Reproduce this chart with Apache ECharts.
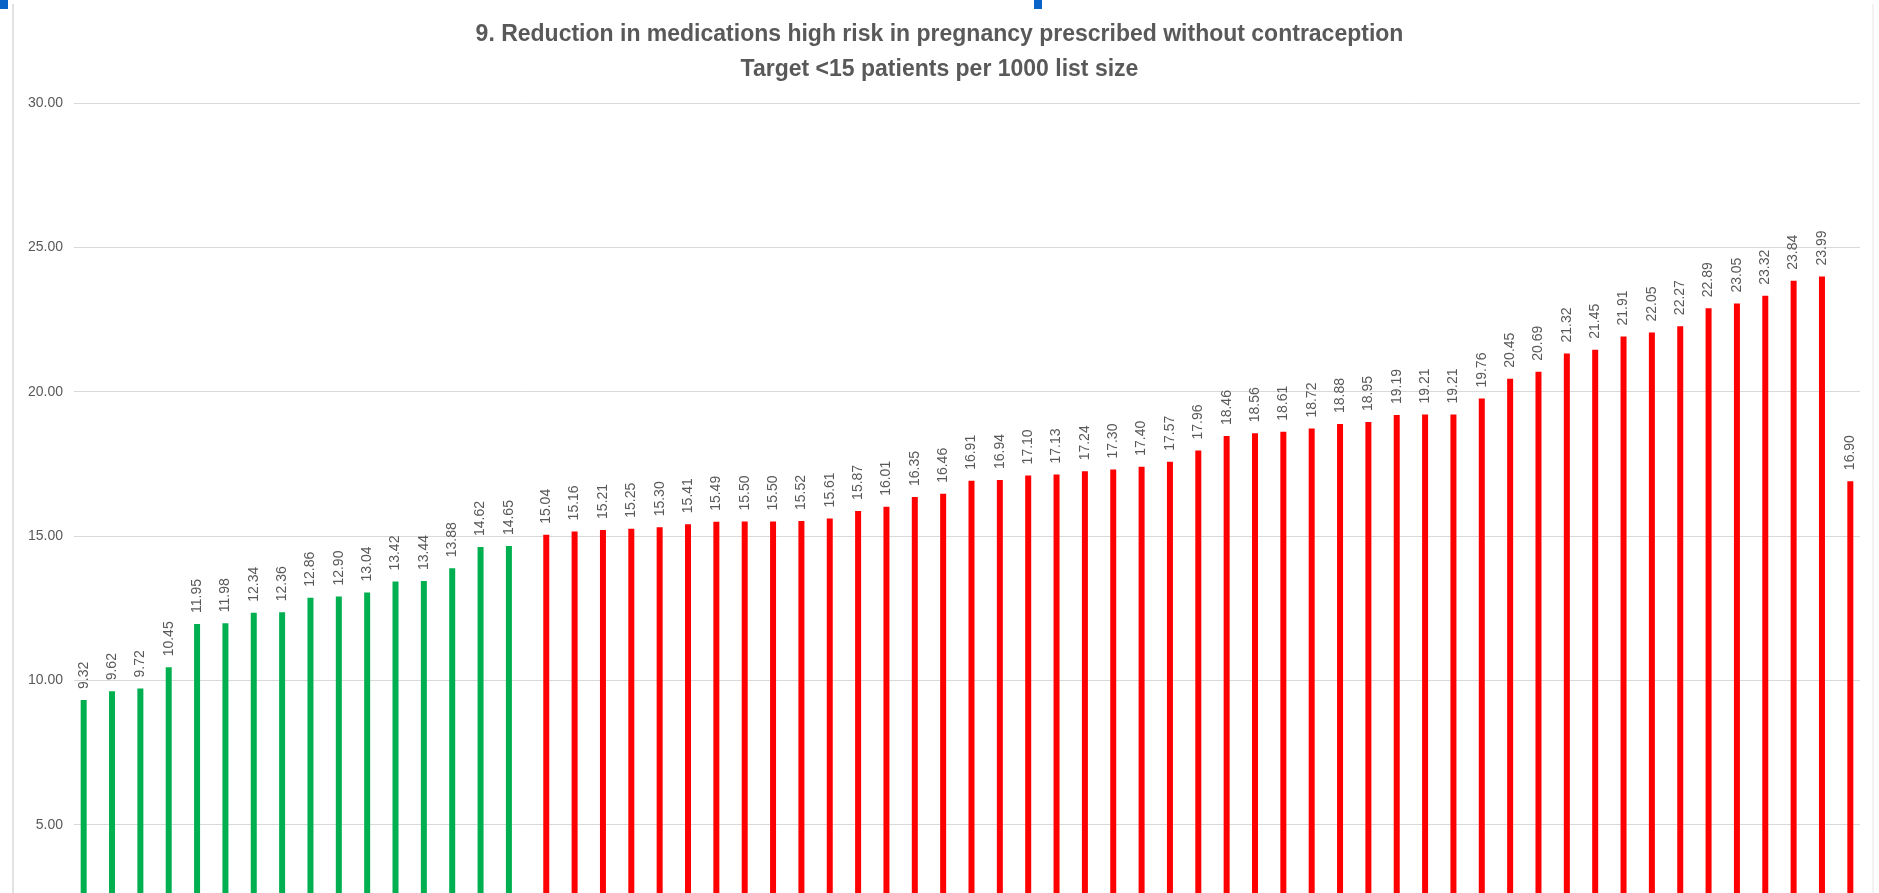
<!DOCTYPE html>
<html>
<head>
<meta charset="UTF-8">
<title>9. Reduction in medications high risk in pregnancy</title>
<script src="https://cdn.jsdelivr.net/npm/echarts@6/dist/echarts.min.js"></script>
<style>
  html, body { margin: 0; padding: 0; background: #fff; overflow: hidden; }
  /* the reference is cropped: the zero line sits below the window */
  #main { width: 1879px; height: 969px; }
</style>
</head>
<body>
<div id="main"></div>
<script>
// values per practice, sorted; last bar is the overall figure
var values = [
  9.32, 9.62, 9.72, 10.45, 11.95, 11.98, 12.34, 12.36, 12.86, 12.90,
  13.04, 13.42, 13.44, 13.88, 14.62, 14.65,
  15.04, 15.16, 15.21, 15.25, 15.30, 15.41, 15.49, 15.50, 15.50, 15.52,
  15.61, 15.87, 16.01, 16.35, 16.46, 16.91, 16.94, 17.10, 17.13, 17.24,
  17.30, 17.40, 17.57, 17.96, 18.46, 18.56, 18.61, 18.72, 18.88, 18.95,
  19.19, 19.21, 19.21, 19.76, 20.45, 20.69, 21.32, 21.45, 21.91, 22.05,
  22.27, 22.89, 23.05, 23.32, 23.84, 23.99, 16.90
];
var target = 15;
var yTicks = [0, 5, 10, 15, 20, 25, 30];
var categories = values.map(function (v, i) { return String(i + 1); });

// split into under / over target series (Excel style two series)
var underTarget = values.map(function (v) { return v < target ? v : null; });
var overTarget = values.map(function (v) { return v >= target ? v : null; });

var labelStyle = {
  show: true,
  position: 'top',
  rotate: 90,
  align: 'left',
  verticalAlign: 'middle',
  distance: 11,
  color: '#595959',
  fontFamily: 'Liberation Sans',
  fontSize: 14,
  formatter: function (p) { return p.value == null ? '' : p.value.toFixed(2); }
};

var myChart = echarts.init(document.getElementById('main'));
var option = {
  backgroundColor: '#ffffff',
  animation: false,
  title: [
    {
      text: '9. Reduction in medications high risk in pregnancy prescribed without contraception',
      left: 'center',
      top: 18,
      textStyle: { color: '#595959', fontFamily: 'Liberation Sans', fontWeight: 'bold', fontSize: 23 }
    },
    {
      text: 'Target <15 patients per 1000 list size',
      left: 'center',
      top: 53,
      textStyle: { color: '#595959', fontFamily: 'Liberation Sans', fontWeight: 'bold', fontSize: 23 }
    }
  ],
  grid: { left: 74, right: 19, top: 103, bottom: 0, containLabel: false, outerBoundsMode: 'none' },
  xAxis: {
    type: 'category',
    data: categories,
    axisLine: { show: false },
    axisTick: { show: false },
    axisLabel: { show: false }
  },
  yAxis: {
    type: 'value',
    min: yTicks[0],
    max: yTicks[yTicks.length - 1],
    interval: 5,
    axisLine: { show: false },
    axisTick: { show: false },
    axisLabel: {
      margin: 11,
      color: '#595959',
      fontFamily: 'Liberation Sans',
      fontSize: 14,
      formatter: function (v) { return v.toFixed(2); }
    },
    splitLine: { lineStyle: { color: '#d9d9d9', width: 1 } }
  },
  series: [
    {
      name: 'Under target',
      type: 'bar',
      data: underTarget,
      barWidth: 6,
      barGap: '50%',
      itemStyle: { color: '#00b050' },
      label: labelStyle
    },
    {
      name: 'Over target',
      type: 'bar',
      data: overTarget,
      barWidth: 6,
      itemStyle: { color: '#ff0000' },
      label: labelStyle
    }
  ],
  graphic: [
    // chart frame edges and selection handles from the screenshot
    { type: 'line', shape: { x1: 13, y1: 4, x2: 13, y2: 969 }, style: { stroke: '#d9d9d9', lineWidth: 1.5 } },
    { type: 'line', shape: { x1: 1873, y1: 4, x2: 1873, y2: 969 }, style: { stroke: '#e6e6e6', lineWidth: 1 } },
    { type: 'rect', shape: { x: 0, y: 0, width: 8, height: 9 }, style: { fill: '#0a64c8' } },
    { type: 'rect', shape: { x: 1034, y: 0, width: 8, height: 9 }, style: { fill: '#0a64c8' } }
  ]
};

myChart.setOption(option);
</script>
</body>
</html>
